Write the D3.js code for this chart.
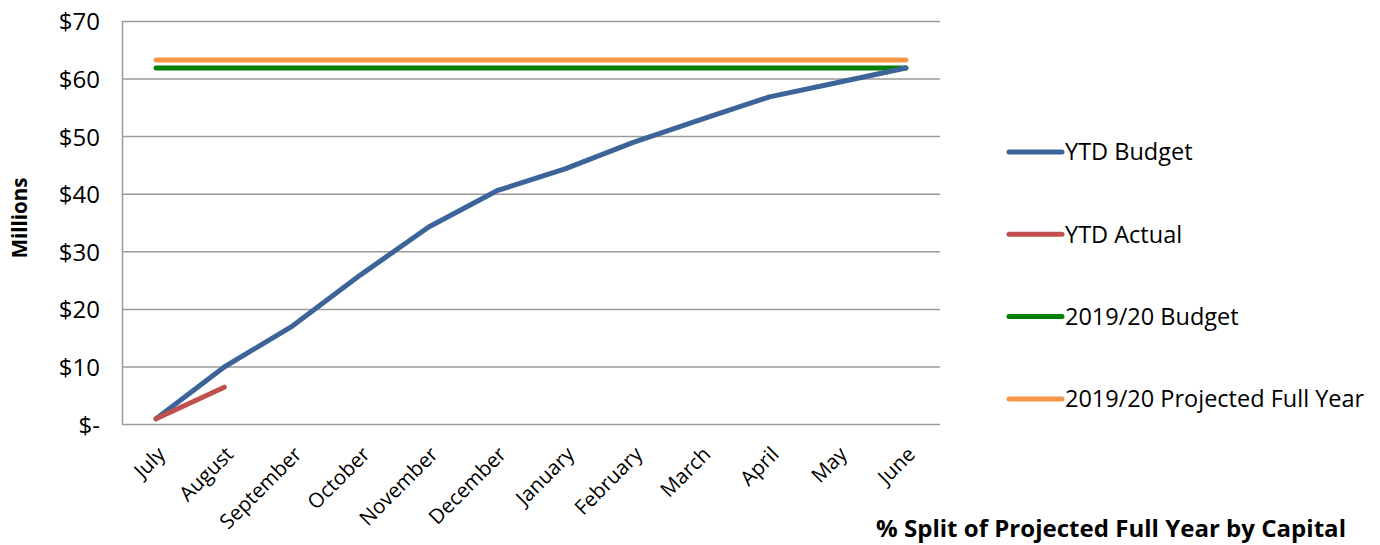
<!DOCTYPE html>
<html><head><meta charset="utf-8">
<script src="https://cdn.jsdelivr.net/npm/d3@7"></script>
<style>body{margin:0;background:#fff}svg{display:block}text{font-family:"Open Sans",sans-serif;fill:#000}</style>
</head><body>
<svg id="c" width="1380" height="545"></svg>
<script>
const months = ["July","August","September","October","November","December","January","February","March","April","May","June"];
const ytdBudget = [1.0, 10.0, 17.1, 26.0, 34.3, 40.6, 44.4, 49.0, 53.0, 56.9, 59.4, 61.9];
const ytdActual = [1.0, 6.5];
const budget1920 = 61.9;
const projected1920 = 63.3;
const yTicks = [0,10,20,30,40,50,60,70];
const seriesNames = ["YTD Budget","YTD Actual","2019/20 Budget","2019/20 Projected Full Year"];
const colors = ["#3C6498","#C0504D","#008000","#F79646"];

const svg = d3.select("#c");
const L=122, R=940, T=21.4, B=424.6;
const x = d3.scalePoint().domain(months).range([L,R]).padding(0.5);
const y = d3.scaleLinear().domain([0,70]).range([B,T]);

svg.append("g").selectAll("line").data(yTicks.filter(d=>d>0)).join("line")
  .attr("x1",L).attr("x2",R).attr("y1",d=>y(d)).attr("y2",d=>y(d))
  .attr("stroke","#9a9a9a").attr("stroke-width",1.5);

const ya = svg.append("g").attr("transform",`translate(${L},0)`)
  .call(d3.axisLeft(y).tickValues(yTicks).tickSize(0).tickPadding(22).tickFormat(d=>d===0?"$-":"$"+d));
ya.select(".domain").attr("stroke","#9a9a9a").attr("stroke-width",1.5);
ya.selectAll("text").style("font-size","24px").style("font-family","Open Sans").attr("dy","0.35em");

const xa = svg.append("g").attr("transform",`translate(0,${B})`)
  .call(d3.axisBottom(x).tickSize(0).tickPadding(0));
xa.select(".domain").attr("stroke","#9a9a9a").attr("stroke-width",1.5).attr("d",`M${L},0H${R}`);
xa.selectAll("text").style("font-size","20.5px").style("font-family","Open Sans")
  .attr("text-anchor","end").attr("dy",0).attr("y",0)
  .attr("transform","translate(10,31) rotate(-45)");

const line = d3.line().x((d,i)=>x(months[i])).y(d=>y(d));
const draw = (data,c)=>svg.append("path").datum(data).attr("d",line)
  .attr("fill","none").attr("stroke",c).attr("stroke-width",5)
  .attr("stroke-linecap","round").attr("stroke-linejoin","round");
draw(months.map(()=>projected1920), colors[3]);
draw(months.map(()=>budget1920), colors[2]);
draw(ytdBudget, colors[0]);
draw(ytdActual, colors[1]);

svg.append("text").attr("transform",`translate(27,218) rotate(-90)`)
  .attr("text-anchor","middle").style("font-size","20.5px").style("font-weight","bold").text("Millions");

const lg = svg.append("g");
seriesNames.forEach((n,i)=>{
  const yy = 152 + i*82.3;
  lg.append("line").attr("x1",1009).attr("x2",1062).attr("y1",yy).attr("y2",yy)
    .attr("stroke",colors[i]).attr("stroke-width",5).attr("stroke-linecap","round");
  lg.append("text").attr("x",1065).attr("y",yy).attr("dy","0.35em")
    .style("font-size","23.5px").text(n);
});

svg.append("text").attr("x",876).attr("y",537).attr("textLength",470).attr("lengthAdjust","spacingAndGlyphs")
  .style("font-size","23px").style("font-weight","bold")
  .text("% Split of Projected Full Year by Capital");
</script>
</body></html>
